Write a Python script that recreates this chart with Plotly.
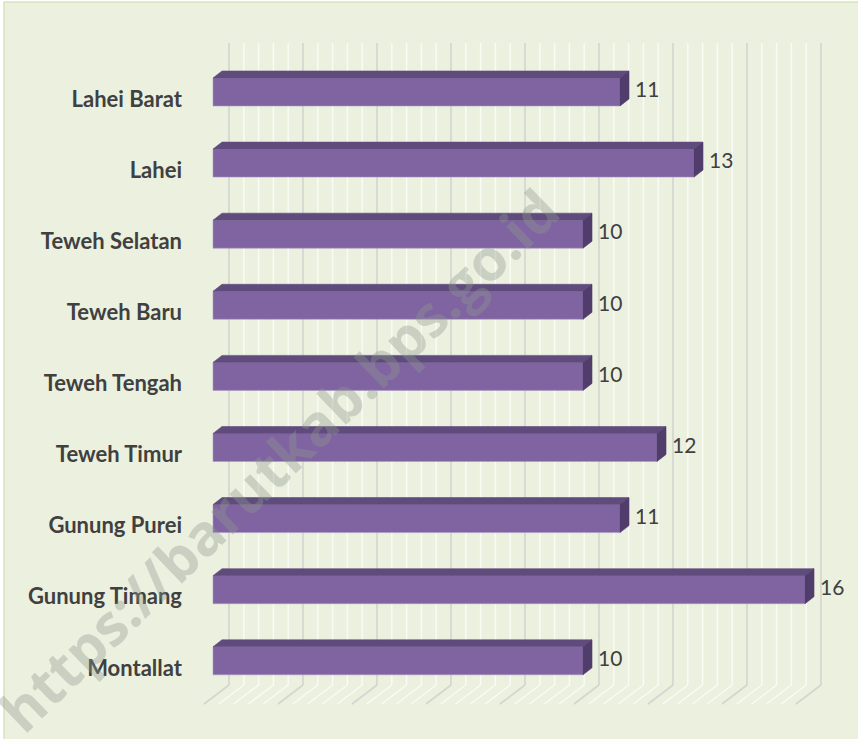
import numpy as np
import plotly.graph_objects as go

# ---- data ----
categories = ["Lahei Barat", "Lahei", "Teweh Selatan", "Teweh Baru", "Teweh Tengah",
              "Teweh Timur", "Gunung Purei", "Gunung Timang", "Montallat"]
values = [11, 13, 10, 10, 10, 12, 11, 16, 10]
major_ticks = list(range(0, 17, 2))
minor_step = 0.4
watermark = "https://barutkab.bps.go.id"

# ---- layout geometry (pixels) ----
W, H = 858, 739
ML, MR, MT, MB = 194, 8, 43, 54
PX_PER_UNIT = 37.0
X_ZERO_PX = 213.0
CAT_STEP_PX = 71.1
FIRST_LABEL_PX = 99.0

plot_w = W - ML - MR
plot_h = H - MT - MB
x_min = (ML - X_ZERO_PX) / PX_PER_UNIT
x_max = x_min + plot_w / PX_PER_UNIT
y_top = -(FIRST_LABEL_PX - MT) / CAT_STEP_PX
y_bot = y_top + plot_h / CAT_STEP_PX

# 3D depth in data units
dx = 9 / PX_PER_UNIT
dy = 7 / CAT_STEP_PX
bar_w = 28 / CAT_STEP_PX
bar_shift = -7 / CAT_STEP_PX
label_gap = 6 / PX_PER_UNIT

FRONT = "#8064A2"
TOP = "#604B7D"
SIDE = "#513D6B"
BG = "#EBF0DF"

idx = list(range(len(categories)))
yc = [k + bar_shift for k in idx]

fig = go.Figure()

# front faces
fig.add_trace(go.Bar(
    x=values, y=yc, base=0, orientation="h", width=bar_w,
    marker=dict(color=FRONT, line=dict(color="rgba(170,150,200,0.7)", width=0.8)),
    hoverinfo="skip", showlegend=False))

# top faces and side faces
tx, ty, sx, sy = [], [], [], []
for v, c in zip(values, yc):
    yt = c - bar_w / 2
    yb = c + bar_w / 2
    tx += [0, dx, v + dx, v, 0, None]
    ty += [yt, yt - dy, yt - dy, yt, yt, None]
    sx += [v, v + dx, v + dx, v, v, None]
    sy += [yt, yt - dy, yb - dy, yb, yt, None]
fig.add_trace(go.Scatter(x=tx, y=ty, mode="lines", fill="toself", fillcolor=TOP,
                         line=dict(width=0.6, color=TOP), hoverinfo="skip", showlegend=False))
fig.add_trace(go.Scatter(x=sx, y=sy, mode="lines", fill="toself", fillcolor=SIDE,
                         line=dict(width=0.6, color=SIDE), hoverinfo="skip", showlegend=False))

# value labels
fig.add_trace(go.Scatter(
    x=[v + dx + label_gap for v in values], y=yc, mode="text", text=[str(v) for v in values],
    textposition="middle right", textfont=dict(family="Lato", size=21, color="#404040"),
    cliponaxis=False, hoverinfo="skip", showlegend=False))

# gridlines on back wall + floor diagonals
shapes = []
minor_vals = [round(v, 2) for v in np.arange(0, major_ticks[-1] + 1e-9, minor_step)]
minor_vals = [v for v in minor_vals if all(abs(v - m) > 1e-6 for m in major_ticks)]
for vals, col, wd in ((minor_vals, "#F9FBF5", 1.5), (major_ticks, "#D3D5D0", 1.6)):
    for v in vals:
        shapes.append(dict(type="line", layer="below", xref="x", yref="paper",
                           xsizemode="pixel", xanchor=v, x0=16, x1=16, y0=0, y1=1,
                           line=dict(color=col, width=wd)))
        shapes.append(dict(type="line", layer="below", xref="x", yref="paper",
                           xsizemode="pixel", xanchor=v, x0=16, x1=-9,
                           ysizemode="pixel", yanchor=0, y0=0, y1=-19,
                           line=dict(color=col, width=wd)))

# chart border (left/top edges visible)
shapes.append(dict(type="rect", xref="paper", yref="paper", layer="below",
                   x0=(4 - ML) / plot_w, x1=(W + 5 - ML) / plot_w,
                   y0=-(H + 5 - MT - plot_h) / plot_h, y1=1 + (MT - 2) / plot_h,
                   line=dict(color="#D5E2B8", width=1.5), fillcolor="rgba(0,0,0,0)"))
# white strip outside border
shapes.append(dict(type="rect", xref="paper", yref="paper", layer="below",
                   x0=-ML / plot_w, x1=(3.2 - ML) / plot_w,
                   y0=-MB / plot_h, y1=1 + MT / plot_h,
                   line=dict(width=0), fillcolor="white"))
shapes.append(dict(type="rect", xref="paper", yref="paper", layer="below",
                   x0=-ML / plot_w, x1=1 + MR / plot_w,
                   y0=1 + (MT - 1.2) / plot_h, y1=1 + MT / plot_h,
                   line=dict(width=0), fillcolor="white"))

fig.update_layout(
    width=W, height=H,
    margin=dict(l=ML, r=MR, t=MT, b=MB),
    paper_bgcolor=BG, plot_bgcolor=BG,
    shapes=shapes,
    xaxis=dict(range=[x_min, x_max], showgrid=False, zeroline=False,
               showticklabels=False, showline=False, ticks=""),
    yaxis=dict(range=[y_bot, y_top], tickvals=idx, ticktext=categories,
               showgrid=False, zeroline=False, showline=False, ticks="",
               ticklabelstandoff=11,
               tickfont=dict(family="Lato", size=22, color="#404040", weight="bold")),
    annotations=[dict(text=watermark, xref="paper", yref="paper",
                      x=(278 - ML) / plot_w, y=(MT + plot_h - 460) / plot_h,
                      xanchor="center", yanchor="middle",
                      showarrow=False, textangle=-44,
                      font=dict(family="Open Sans", size=57, weight="bold",
                                color="rgba(140,152,140,0.36)"))],
    font=dict(family="Lato"),
)

fig.write_html("out.html", config={"displayModeBar": False},
               post_script="document.body.style.margin='0px';")
